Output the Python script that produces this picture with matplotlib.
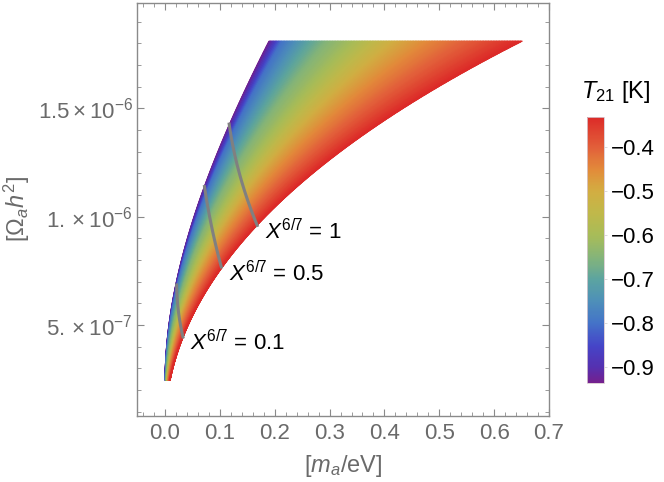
import numpy as np
import matplotlib
matplotlib.use('Agg')
import matplotlib.pyplot as plt
from matplotlib.colors import LinearSegmentedColormap
from matplotlib.ticker import MultipleLocator, FixedLocator, FixedFormatter

plt.rcParams['font.family'] = ['Liberation Sans', 'DejaVu Sans']
plt.rcParams['mathtext.fontset'] = 'custom'
plt.rcParams['mathtext.rm'] = 'Liberation Sans'
plt.rcParams['mathtext.it'] = 'Liberation Sans:italic'
plt.rcParams['mathtext.bf'] = 'Liberation Sans:bold'

# ---- data ----
# upper (left) edge of the allowed band: m_a [eV], Omega_a h^2
upper_m = [0.0, 0.006, 0.0213, 0.0425, 0.0729, 0.0972, 0.118, 0.149, 0.173, 0.193]
upper_omega = [0.246e-6, 0.461e-6, 0.692e-6, 0.923e-6, 1.154e-6, 1.307e-6,
               1.437e-6, 1.600e-6, 1.738e-6, 1.81e-6]

# lower (right) edge of the band
lower_m = [0.009, 0.0334, 0.0669, 0.1034, 0.1336, 0.167, 0.2096, 0.270,
           0.331, 0.392, 0.453, 0.513, 0.574, 0.641]
lower_omega = [0.246e-6, 0.438e-6, 0.615e-6, 0.761e-6, 0.861e-6, 0.953e-6,
               1.095e-6, 1.215e-6, 1.315e-6, 1.415e-6, 1.515e-6, 1.615e-6,
               1.707e-6, 1.81e-6]

# T21 read along the flat top edge of the band
top_m = [0.193, 0.2157, 0.2643, 0.2947, 0.3433, 0.3797, 0.4162, 0.4708, 0.5438, 0.641]
top_t21 = [-0.938, -0.800, -0.701, -0.652, -0.600, -0.549, -0.500, -0.452, -0.400, -0.330]
t21_min, t21_max = -0.938, -0.330

# X^{6/7} contour lines
x01_m = [0.0213, 0.0242, 0.0334]
x01_omega = [0.692e-6, 0.569e-6, 0.438e-6]
x05_m = [0.0716, 0.0851, 0.1034]
x05_omega = [1.146e-6, 0.953e-6, 0.761e-6]
x1_m = [0.1167, 0.1336, 0.149, 0.169]
x1_omega = [1.434e-6, 1.215e-6, 1.092e-6, 0.953e-6]

contour_labels = [r'$X^{6/7}$ = 0.1', r'$X^{6/7}$ = 0.5', r'$X^{6/7}$ = 1']
label_m = [0.0456, 0.1167, 0.182]
label_omega = [0.384e-6, 0.700e-6, 0.895e-6]

cbar_ticks = [-0.9, -0.8, -0.7, -0.6, -0.5, -0.4]

# Mathematica-like "Rainbow" gradient
rainbow = LinearSegmentedColormap.from_list('rainbow_mma', [
    (0.00, '#74208e'), (0.06, '#5530b0'), (0.14, '#4545c8'),
    (0.227, '#4474c8'), (0.31, '#4e90b8'), (0.39, '#5ca4a0'),
    (0.47, '#84b47a'), (0.556, '#a8bc58'), (0.64, '#c0b84a'),
    (0.72, '#d2ae42'), (0.80, '#e28c3a'), (0.885, '#e2603a'),
    (1.00, '#dc2a28')])


def smooth_edge(omega_pts, m_pts, omega, deg=2):
    """least-squares curve through the read edge points, done in sqrt(m)"""
    w = np.asarray(omega_pts) * 1e6
    coef = np.polyfit(w, np.sqrt(m_pts), deg)
    return np.clip(np.polyval(coef, omega * 1e6), 0, None) ** 2


def main():
    fig = plt.figure(figsize=(6.64, 4.82), dpi=100)
    ax = fig.add_axes([137/664, 1-416/482, 412/664, 413/482])

    # curvilinear mesh between the two edges
    omega = np.linspace(upper_omega[0], upper_omega[-1], 400)
    m_up = smooth_edge(upper_omega, upper_m, omega)
    m_lo = smooth_edge(lower_omega, lower_m, omega)
    s = np.linspace(0, 1, 160)
    top_frac = (np.array(top_m) - upper_m[-1]) / (lower_m[-1] - upper_m[-1])
    X = m_up[None, :] + s[:, None] * (m_lo - m_up)[None, :]
    Y = np.broadcast_to(omega[None, :], X.shape)
    C = np.broadcast_to(np.interp(s, top_frac, top_t21)[:, None], X.shape)
    mesh = ax.pcolormesh(X, Y, C, shading='gouraud', cmap=rainbow,
                         vmin=t21_min, vmax=t21_max)

    for xm, xo in [(x01_m, x01_omega), (x05_m, x05_omega), (x1_m, x1_omega)]:
        oo = np.linspace(xo[-1], xo[0], 60)
        coef = np.polyfit(np.array(xo) * 1e6, xm, 2 if len(xm) > 2 else 1)
        ax.plot(np.polyval(coef, oo * 1e6), oo, color='#808080', lw=2.2,
                solid_capstyle='butt')

    for txt, lm, lo in zip(contour_labels, label_m, label_omega):
        ax.text(lm, lo, txt, fontsize=16, color='black', ha='left', va='baseline')

    ax.set_xlim(-0.051, 0.7)
    ax.set_ylim(0.08e-6, 1.986e-6)

    frame = '#8a8a8a'
    for sp in ax.spines.values():
        sp.set_color(frame)
        sp.set_linewidth(1.0)
    ax.xaxis.set_major_locator(MultipleLocator(0.1))
    ax.xaxis.set_minor_locator(MultipleLocator(0.02))
    ax.yaxis.set_major_locator(FixedLocator([5e-7, 1e-6, 1.5e-6]))
    ax.yaxis.set_major_formatter(FixedFormatter(
        [r'$5.\times10^{-7}$', r'$1.\times10^{-6}$', r'$1.5\times10^{-6}$']))
    ax.yaxis.set_minor_locator(MultipleLocator(1e-7))
    ax.xaxis.set_major_formatter(plt.FuncFormatter(lambda v, p: f'{v:.1f}'))
    ax.tick_params(which='both', direction='in', top=True, right=True,
                   color=frame, labelcolor='#6a6a6a', labelsize=16)
    ax.tick_params(which='major', length=5, width=0.8)
    ax.tick_params(which='minor', length=3, width=0.6)
    ax.tick_params(axis='x', pad=5)
    ax.tick_params(axis='y', pad=3)

    fig.text(343/664, 1-466/482, r'$[m_a/\mathrm{eV}]$', fontsize=17,
             color='#6a6a6a', ha='center', va='center')
    fig.text(17/664, 1-209/482, r'$[\Omega_a h^2]$', fontsize=17,
             color='#6a6a6a', ha='center', va='center', rotation=90)

    # colour bar
    cax = fig.add_axes([586.7/664, 1-383.3/482, 17.6/664, 266.6/482])
    cb = fig.colorbar(mesh, cax=cax, ticks=cbar_ticks)
    cb.outline.set_edgecolor('#d8c8d0')
    cb.outline.set_linewidth(0.6)
    cax.tick_params(length=2, width=0.5, color='#cccccc', labelsize=16,
                    labelcolor='black', pad=3)
    fig.text(616/664, 1-91.7/482, r'$T_{21}$ [K]', fontsize=17,
             color='black', ha='center', va='center')

    fig.savefig('out.png', dpi=100)
    plt.close(fig)


if __name__ == "__main__":
    main()
